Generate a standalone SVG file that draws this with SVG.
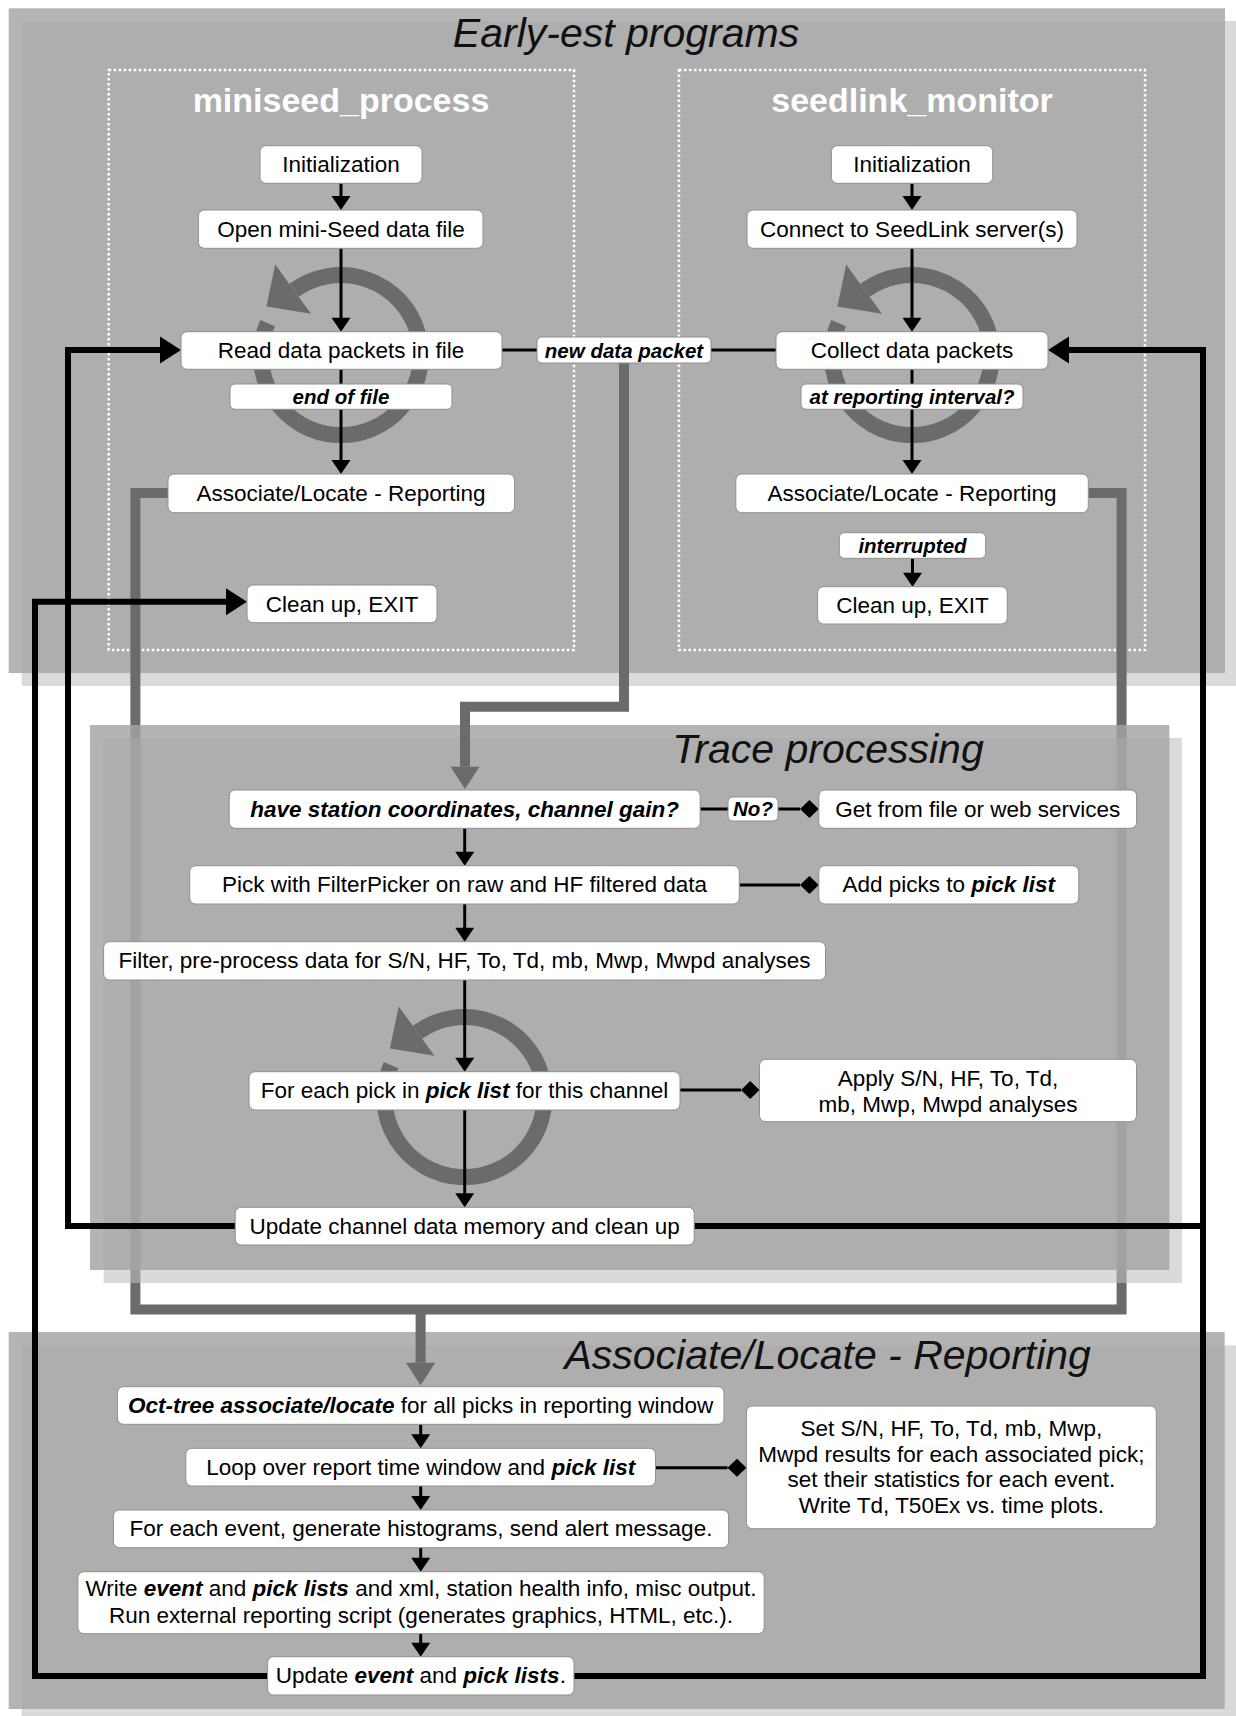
<svg xmlns="http://www.w3.org/2000/svg" width="1236" height="1716" viewBox="0 0 1236 1716">
<defs>
<style>
.pA{fill:#a3a3a3;fill-opacity:0.818}
.pB{fill:#c0c0c0;fill-opacity:0.587}
.box{fill:#fff;stroke:#8f8f8f;stroke-width:1}
.t{font-family:"Liberation Sans",Arial,sans-serif;font-size:22.5px;fill:#000;text-anchor:middle}
.bi{font-weight:bold;font-style:italic}
.l{font-family:"Liberation Sans",Arial,sans-serif;font-size:20.5px;font-weight:bold;font-style:italic;fill:#000;text-anchor:middle}
.ttl{font-family:"Liberation Sans",Arial,sans-serif;font-size:41px;font-style:italic;fill:#111;text-anchor:middle}
.hdr{font-family:"Liberation Sans",Arial,sans-serif;font-size:34px;font-weight:bold;fill:#fff;text-anchor:middle}
.thin{stroke:#000;stroke-width:3;fill:none}
.thick{stroke:#000;stroke-width:6;fill:none}
.gray{stroke:#6b6b6b;stroke-width:10;fill:none}
.dot{fill:none;stroke:#fff;stroke-width:2.5;stroke-dasharray:2.5 2.5}
.ring{fill:none;stroke:#6b6b6b;stroke-width:16}
.rh{fill:#6b6b6b}
.ah{fill:#000}
</style>
</defs>

<g id="panel-programs">
<rect class="pB" x="21.7" y="21" width="1214.3" height="665"/>
<rect class="pA" x="8.7" y="8.3" width="1216.3" height="664.7"/>
<text class="ttl" x="626" y="47">Early-est programs</text>
<rect class="dot" x="108.7" y="70" width="465.3" height="580"/>
<rect class="dot" x="679" y="70" width="466" height="580"/>
<text class="hdr" x="341" y="112">miniseed_process</text>
<text class="hdr" x="912" y="112">seedlink_monitor</text>
</g>

<g id="panel-reporting">
<rect class="pB" x="21.7" y="1345.3" width="1214.3" height="371"/>
<rect class="pA" x="8.7" y="1332" width="1216" height="377"/>
<text class="ttl" x="827.7" y="1369">Associate/Locate - Reporting</text>
</g>

<g id="connectors-gray-under">
<path class="gray" d="M168,493 H135.4 V1309.6 H1121.6 V493 H1088.3"/>
</g>

<g id="panel-trace">
<rect class="pB" x="103.6" y="738" width="1078.4" height="545"/>
<rect class="pA" x="90" y="725" width="1079.4" height="545"/>
<text class="ttl" x="828" y="763">Trace processing</text>
</g>

<g id="loops">
<path class="ring" d="M294.0,290.3 A80,80 0 1 1 267.6,323.1"/>
<polygon class="rh" points="311,313.7 275.2,264.4 266.4,306.5"/>
<path class="ring" d="M865.0,290.3 A80,80 0 1 1 838.6,323.1"/>
<polygon class="rh" points="882,313.7 846.2,264.4 837.4,306.5"/>
<path class="ring" d="M417.5,1032.3 A80,80 0 1 1 391.1,1065.1"/>
<polygon class="rh" points="434.5,1055.7 398.7,1006.4 389.9,1048.5"/>
</g>

<g id="connectors">
<path class="gray" d="M624,363 V706.7 H465 V766.7"/>
<polygon class="rh" points="450.5,766.7 479.5,766.7 465,789"/>
<path class="gray" d="M420.6,1309.6 V1362.7"/>
<polygon class="rh" points="406,1362.7 435.2,1362.7 420.6,1385.5"/>

<path class="thick" d="M235.2,1226 H68 V350 H160"/>
<polygon class="ah" points="160,336.5 160,363.5 181,350"/>
<path class="thick" d="M267.6,1676 H35 V601.7 H226"/>
<polygon class="ah" points="226,588.2 226,615.2 247,601.7"/>
<path class="thick" d="M574,1676 H1203 V350 H1069"/>
<path class="thick" d="M694.3,1226 H1203"/>
<polygon class="ah" points="1069,336.5 1069,363.5 1048,350"/>

<path class="thin" d="M341,183.3 V197"/>
<polygon class="ah" points="331.5,196 350.5,196 341,210"/>
<path class="thin" d="M341,248.3 V318.7"/>
<polygon class="ah" points="331.5,317.7 350.5,317.7 341,331.7"/>
<path class="thin" d="M341,369.3 V461"/>
<polygon class="ah" points="331.5,460 350.5,460 341,474"/>
<path class="thin" d="M502,350 H537 M711,350 H776"/>

<path class="thin" d="M912,183.3 V197"/>
<polygon class="ah" points="902.5,196 921.5,196 912,210"/>
<path class="thin" d="M912,248.3 V318.7"/>
<polygon class="ah" points="902.5,317.7 921.5,317.7 912,331.7"/>
<path class="thin" d="M912,369.3 V461"/>
<polygon class="ah" points="902.5,460 921.5,460 912,474"/>
<path class="thin" d="M912.5,558.3 V573.7"/>
<polygon class="ah" points="903,572.7 922,572.7 912.5,586.7"/>

<path class="thin" d="M464.7,828.3 V852.7"/>
<polygon class="ah" points="455.2,851.7 474.2,851.7 464.7,865.7"/>
<path class="thin" d="M464.7,904 V928.7"/>
<polygon class="ah" points="455.2,927.7 474.2,927.7 464.7,941.7"/>
<path class="thin" d="M464.7,980 V1058.7"/>
<polygon class="ah" points="455.2,1057.7 474.2,1057.7 464.7,1071.7"/>
<path class="thin" d="M464.7,1110 V1194.3"/>
<polygon class="ah" points="455.2,1193.3 474.2,1193.3 464.7,1207.3"/>

<path class="thin" d="M700.2,809 H728 M778,809 H800"/>
<polygon class="ah" points="800,809 809.4,800 818.8,809 809.4,818"/>
<path class="thin" d="M739.3,885 H800"/>
<polygon class="ah" points="800,885 809.4,876 818.8,885 809.4,894"/>
<path class="thin" d="M680,1090 H741"/>
<polygon class="ah" points="741,1090 750.2,1081 759.5,1090 750.2,1099"/>

<path class="thin" d="M420.7,1424.3 V1435.3"/>
<polygon class="ah" points="411.2,1434.3 430.2,1434.3 420.7,1448.3"/>
<path class="thin" d="M655.5,1467.7 H727.5"/>
<polygon class="ah" points="727.5,1467.7 737,1458.7 746.4,1467.7 737,1476.7"/>
<path class="thin" d="M420.7,1486 V1497"/>
<polygon class="ah" points="411.2,1496 430.2,1496 420.7,1510"/>
<path class="thin" d="M420.7,1547.7 V1558.7"/>
<polygon class="ah" points="411.2,1557.7 430.2,1557.7 420.7,1571.7"/>
<path class="thin" d="M420.7,1633.7 V1643.7"/>
<polygon class="ah" points="411.2,1642.7 430.2,1642.7 420.7,1656.7"/>
</g>

<g id="lbl-new-data-packet"><rect class="box" x="537" y="337" width="174" height="26" rx="5"/><text class="l" x="624" y="357.5">new data packet</text></g>
<g id="lbl-end-of-file"><rect class="box" x="230" y="384" width="222" height="25.3" rx="5"/><text class="l" x="341" y="403.5">end of file</text></g>
<g id="lbl-reporting-interval"><rect class="box" x="801" y="384" width="222" height="25.3" rx="5"/><text class="l" x="912" y="403.5">at reporting interval?</text></g>
<g id="lbl-interrupted"><rect class="box" x="839.3" y="532.7" width="146.3" height="25.6" rx="5"/><text class="l" x="912.5" y="552.5">interrupted</text></g>
<g id="lbl-no"><rect class="box" x="728" y="797" width="50" height="24" rx="5"/><text class="l" x="753" y="816">No?</text></g>

<g id="mp-init"><rect class="box" x="260" y="145.7" width="162" height="37.6" rx="6"/><text class="t" x="341" y="172">Initialization</text></g>
<g id="mp-open"><rect class="box" x="198.4" y="210" width="284.6" height="38.3" rx="6"/><text class="t" x="341" y="236.6">Open mini-Seed data file</text></g>
<g id="mp-read"><rect class="box" x="181" y="331.7" width="321" height="37.6" rx="6"/><text class="t" x="341" y="358">Read data packets in file</text></g>
<g id="mp-assoc"><rect class="box" x="168" y="474" width="346.6" height="38.7" rx="6"/><text class="t" x="341" y="501">Associate/Locate - Reporting</text></g>
<g id="mp-clean"><rect class="box" x="247" y="585" width="190" height="37.7" rx="6"/><text class="t" x="342" y="611.5">Clean up, EXIT</text></g>

<g id="sl-init"><rect class="box" x="831.4" y="145.7" width="161.3" height="37.6" rx="6"/><text class="t" x="912" y="172">Initialization</text></g>
<g id="sl-connect"><rect class="box" x="747" y="210" width="330" height="38.3" rx="6"/><text class="t" x="912" y="236.6">Connect to SeedLink server(s)</text></g>
<g id="sl-collect"><rect class="box" x="776" y="331.7" width="272" height="37.6" rx="6"/><text class="t" x="912" y="358">Collect data packets</text></g>
<g id="sl-assoc"><rect class="box" x="735.8" y="474" width="352.5" height="38.7" rx="6"/><text class="t" x="912" y="501">Associate/Locate - Reporting</text></g>
<g id="sl-clean"><rect class="box" x="817.6" y="586.7" width="189.7" height="37.3" rx="6"/><text class="t" x="912.5" y="613">Clean up, EXIT</text></g>

<g id="tp-have"><rect class="box" x="229.2" y="790" width="471" height="38.3" rx="6"/><text class="t bi" x="464.7" y="816.5">have station coordinates, channel gain?</text></g>
<g id="tp-get"><rect class="box" x="818.8" y="790" width="317.8" height="38.3" rx="6"/><text class="t" x="977.7" y="816.5">Get from file or web services</text></g>
<g id="tp-pick"><rect class="box" x="189.7" y="865.7" width="549.6" height="38.3" rx="6"/><text class="t" x="464.5" y="892.3">Pick with FilterPicker on raw and HF filtered data</text></g>
<g id="tp-add"><rect class="box" x="818.8" y="865.7" width="260" height="38.3" rx="6"/><text class="t" x="948.8" y="892.3">Add picks to <tspan class="bi">pick list</tspan></text></g>
<g id="tp-filter"><rect class="box" x="103.6" y="941.7" width="721.9" height="38.3" rx="6"/><text class="t" x="464.5" y="968.3">Filter, pre-process data for S/N, HF, To, Td, mb, Mwp, Mwpd analyses</text></g>
<g id="tp-foreach"><rect class="box" x="249" y="1071.7" width="431" height="38.3" rx="6"/><text class="t" x="464.5" y="1098.3">For each pick in <tspan class="bi">pick list</tspan> for this channel</text></g>
<g id="tp-apply"><rect class="box" x="759.5" y="1059.3" width="377" height="62.4" rx="6"/><text class="t" x="948" y="1086">Apply S/N, HF, To, Td,</text><text class="t" x="948" y="1111.7">mb, Mwp, Mwpd analyses</text></g>
<g id="tp-update"><rect class="box" x="235.2" y="1207.3" width="459" height="37.7" rx="6"/><text class="t" x="464.7" y="1233.5">Update channel data memory and clean up</text></g>

<g id="al-oct"><rect class="box" x="117.4" y="1386.7" width="606.6" height="37.6" rx="6"/><text class="t" x="420.7" y="1413"><tspan class="bi">Oct-tree associate/locate</tspan> for all picks in reporting window</text></g>
<g id="al-loop"><rect class="box" x="185.8" y="1448.3" width="469.7" height="37.7" rx="6"/><text class="t" x="420.7" y="1474.6">Loop over report time window and <tspan class="bi">pick list</tspan></text></g>
<g id="al-set"><rect class="box" x="746.4" y="1406" width="409.9" height="122.7" rx="6"/><text class="t" x="951.4" y="1436">Set S/N, HF, To, Td, mb, Mwp,</text><text class="t" x="951.4" y="1461.5">Mwpd results for each associated pick;</text><text class="t" x="951.4" y="1487">set their statistics for each event.</text><text class="t" x="951.4" y="1512.5">Write Td, T50Ex vs. time plots.</text></g>
<g id="al-foreach"><rect class="box" x="113.4" y="1510" width="615.2" height="37.7" rx="6"/><text class="t" x="421" y="1536.3">For each event, generate histograms, send alert message.</text></g>
<g id="al-write"><rect class="box" x="77.9" y="1571.7" width="686.3" height="62" rx="6"/><text class="t" x="421" y="1596">Write <tspan class="bi">event</tspan> and <tspan class="bi">pick lists</tspan> and xml, station health info, misc output.</text><text class="t" x="421" y="1622.5">Run external reporting script (generates graphics, HTML, etc.).</text></g>
<g id="al-update"><rect class="box" x="267.6" y="1656.7" width="306.4" height="38.3" rx="6"/><text class="t" x="420.8" y="1683">Update <tspan class="bi">event</tspan> and <tspan class="bi">pick lists</tspan>.</text></g>
</svg>
